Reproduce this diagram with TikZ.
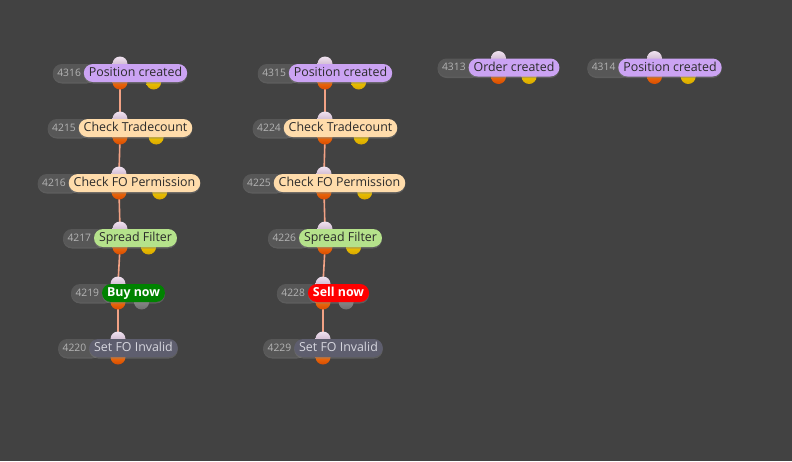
\documentclass[tikz,border=0pt]{standalone}
\usepackage{fontspec}
\setmainfont{Open Sans}
\usetikzlibrary{calc,shadows,positioning}

\pgfdeclarelayer{canvas}
\pgfdeclarelayer{wires}
\pgfdeclarelayer{ports}
\pgfdeclarelayer{ids}
\pgfsetlayers{canvas,wires,ports,ids,main}

\definecolor{canvasbg}{HTML}{424242}
\definecolor{idfill}{HTML}{575757}
\definecolor{idtext}{HTML}{B4B4B4}
\definecolor{pilltext}{HTML}{2B2B2B}
\definecolor{createdfill}{HTML}{CBA3F3}
\definecolor{checkfill}{HTML}{FFDCAB}
\definecolor{filterfill}{HTML}{B5E28B}
\definecolor{buyfill}{HTML}{008200}
\definecolor{sellfill}{HTML}{FF0000}
\definecolor{invalidfill}{HTML}{5E5E6E}
\definecolor{invalidtext}{HTML}{D6D6DE}
\definecolor{inporttop}{HTML}{F0E2F0}
\definecolor{inportbot}{HTML}{B89CB8}
\definecolor{outporttop}{HTML}{FF8A1A}
\definecolor{outportbot}{HTML}{D84C00}
\definecolor{yellowtop}{HTML}{FFE000}
\definecolor{yellowbot}{HTML}{D8A600}
\definecolor{greytop}{HTML}{9C9C9C}
\definecolor{greybot}{HTML}{6E6E6E}
\definecolor{wirecol}{HTML}{F2A285}

\tikzset{
  pill/.style={rectangle, rounded corners=9pt, minimum height=18pt,
    inner xsep=5pt, inner ysep=0pt, text height=10pt, text depth=3pt,
    font=\fontsize{12.4}{14}\selectfont, text=pilltext,
    drop shadow={shadow xshift=0pt, shadow yshift=-1.5pt, opacity=0.45}},
  created/.style={fill=createdfill},
  check/.style={fill=checkfill},
  filter/.style={fill=filterfill},
  buy/.style={fill=buyfill, text=white, font=\fontsize{12.4}{14}\selectfont\bfseries},
  sell/.style={fill=sellfill, text=white, font=\fontsize{12.4}{14}\selectfont\bfseries},
  invalid/.style={fill=invalidfill, text=invalidtext},
  idpill/.style={rectangle, rounded corners=9pt, minimum height=18pt,
    fill=idfill, text=idtext, text width=34pt, align=left,
    inner xsep=4.5pt, inner ysep=0pt, text height=7.5pt, text depth=1pt,
    font=\fontsize{10.3}{12}\selectfont,
    drop shadow={shadow xshift=0pt, shadow yshift=-1.5pt, opacity=0.45}},
  port/.style={circle, minimum size=15pt, inner sep=0pt},
  inport/.style={port, top color=inporttop, bottom color=inportbot},
  outport/.style={port, top color=outporttop, bottom color=outportbot},
  yellowport/.style={port, top color=yellowtop, bottom color=yellowbot},
  greyport/.style={port, top color=greytop, bottom color=greybot},
  wire/.style={draw=wirecol, line width=1.6pt}
}

% #1 name, #2 centre, #3 id, #4 label, #5 colour style, #6 second output port
\newcommand{\flowstep}[6]{%
  \node[pill,#5] (#1) at ($(#2)+(15.5,0)$) {#4};
  \begin{pgfonlayer}{ids}
    \node[idpill, anchor=west] (#1-id) at ($(#1.west)+(-31,0)$) {#3};
  \end{pgfonlayer}
  \begin{pgfonlayer}{ports}
    \node[inport] (#1-in) at ($(#2)+(0,-9)$) {};
    \node[outport] (#1-out) at ($(#2)+(0,9)$) {};
    \ifx\relax#6\relax\else
      \node[#6] (#1-alt) at ($(#2)!0.5!(#1.east)+(0,9)$) {};
    \fi
  \end{pgfonlayer}}

\begin{document}
\begin{tikzpicture}[x=1pt, y=-1pt]
  \begin{pgfonlayer}{canvas}
    \fill[canvasbg] (0,0) rectangle (792,461);
  \end{pgfonlayer}
  \useasboundingbox (0,0) rectangle (792,461);

  % buy chain
  \flowstep{a1}{120,73}{4316}{Position created}{created}{yellowport}
  \flowstep{a2}{120,128}{4215}{Check Tradecount}{check}{yellowport}
  \flowstep{a3}{119,183}{4216}{Check FO Permission}{check}{yellowport}
  \flowstep{a4}{120,238}{4217}{Spread Filter}{filter}{yellowport}
  \flowstep{a5}{118,293}{4219}{Buy now}{buy}{greyport}
  \flowstep{a6}{118,348}{4220}{Set FO Invalid}{invalid}{}

  % sell chain
  \flowstep{b1}{325,73}{4315}{Position created}{created}{yellowport}
  \flowstep{b2}{325,128}{4224}{Check Tradecount}{check}{yellowport}
  \flowstep{b3}{324,183}{4225}{Check FO Permission}{check}{yellowport}
  \flowstep{b4}{325,238}{4226}{Spread Filter}{filter}{yellowport}
  \flowstep{b5}{323,293}{4228}{Sell now}{sell}{greyport}
  \flowstep{b6}{323,348}{4229}{Set FO Invalid}{invalid}{}

  % loose events
  \flowstep{c1}{498.5,67.5}{4313}{Order created}{created}{yellowport}
  \flowstep{c2}{654.5,67.5}{4314}{Position created}{created}{yellowport}

  \begin{pgfonlayer}{wires}
    \foreach \u/\v in {a1/a2,a2/a3,a3/a4,a4/a5,a5/a6,b1/b2,b2/b3,b3/b4,b4/b5,b5/b6}
      \draw[wire] (\u-out.center) -- (\v-in.center);
  \end{pgfonlayer}
\end{tikzpicture}
\end{document}
